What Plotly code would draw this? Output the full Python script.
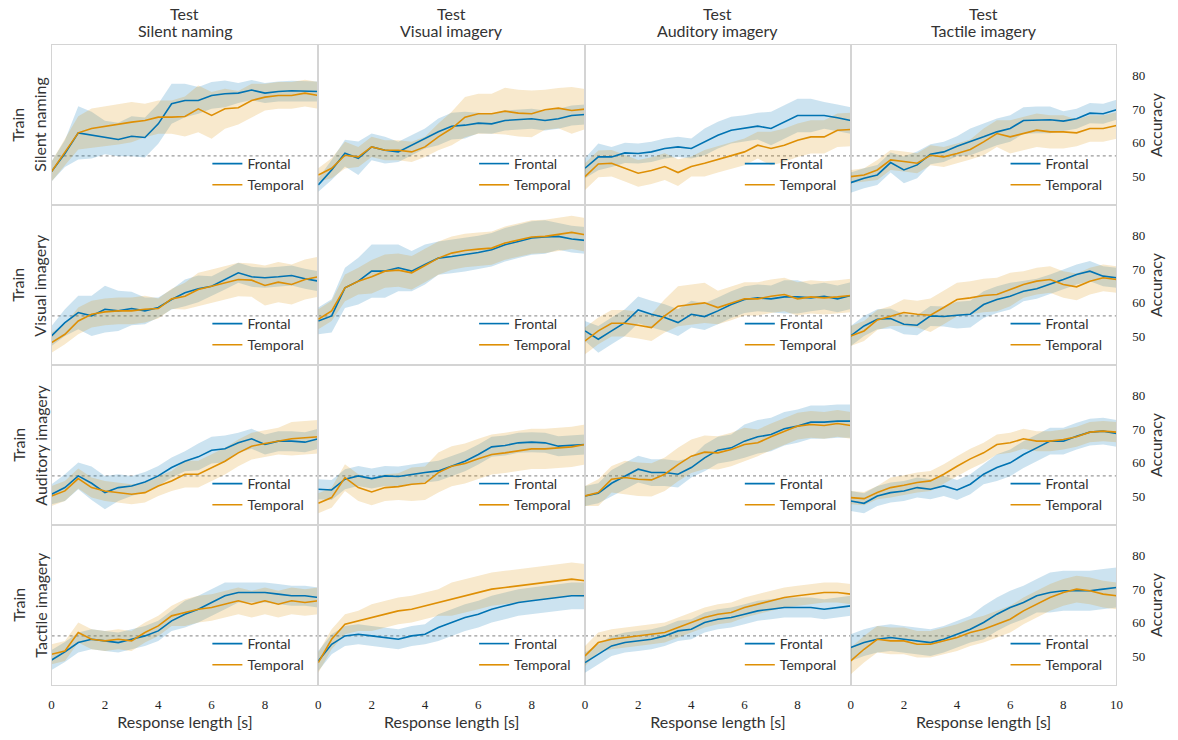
import plotly.graph_objects as go

# ---- axes / labels -------------------------------------------------------
TIME = [0.0, 0.5, 1.0, 1.5, 2.0, 2.5, 3.0, 3.5, 4.0, 4.5, 5.0,
        5.5, 6.0, 6.5, 7.0, 7.5, 8.0, 8.5, 9.0, 9.5, 10.0]
TASKS = ["Silent naming", "Visual imagery", "Auditory imagery", "Tactile imagery"]
CHANCE = 56
Y_TICKS = [50, 60, 70, 80]
X_TICKS = [0, 2, 4, 6, 8]
X_TICKS_LAST = [0, 2, 4, 6, 8, 10]

# ---- mean accuracy and band half-width (train -> test) ---------------------
# train: silent naming
fr_sil_sil = [51.3, 56.7, 62.9, 62.2, 61.5, 60.9, 61.9, 61.5, 65.6, 71.6, 72.6,
              72.6, 74.1, 74.6, 74.8, 75.7, 74.8, 75.3, 75.5, 75.3, 75.3]
te_sil_sil = [51.3, 57.2, 62.9, 64.2, 64.9, 65.4, 66.1, 66.6, 67.6, 67.6, 67.8,
              70.1, 68.1, 70.1, 70.4, 72.6, 73.6, 74.1, 74.1, 74.8, 74.1]
fr_sil_sil_sd = [3, 4, 8, 7, 5, 5, 6, 6, 6, 6, 5, 4, 4, 4, 3, 3, 3, 3, 3, 3, 3]
te_sil_sil_sd = [3, 4, 5, 6, 6, 6, 6, 5, 5, 5, 6, 7, 7, 6, 5, 5, 4, 4, 4, 4, 4]

fr_sil_vis = [47.3, 51.8, 56.8, 55.3, 58.7, 57.7, 57.2, 59.2, 61.2, 63.2, 64.9,
              65.2, 65.8, 65.6, 66.6, 66.8, 67.1, 66.6, 67.1, 68.1, 68.4]
te_sil_vis = [50.3, 52.3, 56.2, 55.7, 58.7, 57.7, 57.7, 57.2, 58.7, 61.7, 64.2,
              67.6, 68.6, 68.6, 69.4, 68.8, 68.6, 69.8, 70.3, 69.6, 70.0]
fr_sil_vis_sd = [2, 3, 4, 5, 4, 4, 3, 3, 3, 4, 4, 4, 3, 3, 3, 3, 3, 3, 3, 3, 3]
te_sil_vis_sd = [2, 3, 4, 3, 3, 3, 3, 3, 3, 4, 5, 6, 6, 6, 7, 7, 7, 6, 6, 7, 6]

fr_sil_aud = [52.3, 55.7, 55.7, 56.9, 56.7, 57.2, 58.2, 58.7, 58.2, 60.2, 62.2,
              63.7, 64.2, 64.9, 64.2, 66.1, 68.1, 68.1, 68.1, 67.4, 66.6]
te_sil_aud = [49.8, 53.6, 53.8, 52.3, 50.8, 51.6, 52.8, 51.0, 52.8, 53.8, 55.0,
              56.2, 57.2, 59.2, 58.2, 59.2, 60.7, 61.7, 61.7, 63.7, 63.9]
fr_sil_aud_sd = [3, 4, 3, 3, 3, 3, 3, 3, 3, 4, 4, 4, 4, 4, 5, 5, 5, 5, 4, 4, 4]
te_sil_aud_sd = [4, 4, 4, 4, 4, 4, 4, 4, 3, 4, 4, 4, 4, 4, 5, 5, 5, 5, 5, 5, 5]

fr_sil_tac = [48.0, 49.3, 50.3, 54.0, 51.8, 53.3, 56.5, 57.2, 58.9, 60.2, 61.7,
              63.2, 64.2, 66.6, 66.8, 66.8, 66.4, 67.1, 68.8, 68.6, 69.8]
te_sil_tac = [49.8, 50.3, 51.8, 54.8, 54.3, 53.8, 56.2, 55.7, 56.7, 57.9, 60.2,
              62.7, 61.7, 62.7, 63.7, 63.2, 63.2, 62.9, 64.2, 64.2, 65.1]
fr_sil_tac_sd = [3, 3, 3, 3, 4, 4, 3, 3, 3, 4, 4, 4, 4, 4, 4, 4, 3, 3, 3, 3, 3]
te_sil_tac_sd = [2, 2, 3, 3, 3, 3, 3, 3, 3, 3, 4, 4, 5, 5, 5, 5, 5, 4, 4, 4, 4]

# train: visual imagery
fr_vis_sil = [50.0, 54.0, 57.0, 56.0, 58.0, 57.5, 58.2, 57.5, 58.5, 60.9, 62.9,
              64.1, 64.9, 66.9, 68.9, 67.7, 67.4, 67.7, 68.1, 67.1, 66.4]
te_vis_sil = [48.0, 50.5, 54.5, 56.5, 57.2, 57.5, 57.5, 58.0, 58.2, 61.1, 61.9,
              63.9, 64.9, 65.9, 66.9, 66.7, 65.1, 66.1, 65.4, 66.9, 67.7]
fr_vis_sil_sd = [3, 4, 5, 6, 7, 6, 5, 4, 3, 3, 4, 4, 3, 3, 3, 3, 3, 3, 3, 3, 3]
te_vis_sil_sd = [3, 3, 4, 4, 4, 4, 4, 4, 3, 3, 4, 5, 5, 5, 5, 5, 6, 6, 6, 6, 6]

fr_vis_vis = [54.5, 56.0, 64.4, 66.4, 69.4, 69.4, 70.4, 69.4, 71.4, 73.3, 73.8,
              74.3, 75.0, 75.8, 77.3, 78.3, 79.3, 79.6, 79.8, 79.0, 78.6]
te_vis_vis = [55.0, 57.5, 64.4, 66.4, 67.7, 69.4, 69.7, 68.9, 71.1, 73.3, 74.8,
              75.6, 76.0, 76.3, 77.8, 78.6, 79.6, 79.8, 80.3, 81.0, 80.3]
fr_vis_vis_sd = [4, 5, 6, 7, 8, 8, 7, 6, 6, 5, 5, 5, 5, 5, 5, 5, 5, 5, 4, 4, 4]
te_vis_vis_sd = [3, 3, 4, 4, 5, 5, 5, 5, 5, 5, 5, 5, 5, 5, 5, 5, 5, 5, 5, 5, 5]

fr_vis_aud = [51.5, 49.0, 51.5, 54.0, 57.8, 56.5, 55.5, 54.0, 56.5, 55.8, 57.5,
              59.4, 60.9, 61.4, 61.1, 61.7, 61.7, 61.4, 61.9, 61.1, 62.1]
te_vis_aud = [48.5, 51.5, 53.8, 53.8, 53.2, 52.5, 56.0, 58.9, 59.4, 59.9, 58.5,
              59.7, 61.1, 61.1, 61.9, 62.4, 61.1, 61.7, 61.4, 61.7, 62.1]
fr_vis_aud_sd = [3, 4, 4, 4, 4, 4, 4, 4, 4, 4, 4, 4, 4, 4, 4, 5, 5, 4, 4, 4, 4]
te_vis_aud_sd = [4, 4, 4, 4, 4, 4, 5, 6, 6, 6, 5, 5, 5, 5, 5, 5, 5, 5, 5, 5, 5]

fr_vis_tac = [50.0, 53.0, 55.0, 55.2, 53.5, 53.2, 56.0, 55.8, 56.2, 56.5, 59.4,
              60.9, 61.9, 63.4, 64.1, 65.4, 66.9, 68.4, 69.4, 67.9, 67.4]
te_vis_tac = [50.0, 51.5, 54.8, 56.0, 57.0, 56.5, 56.2, 58.5, 60.9, 61.4, 62.1,
              62.4, 63.9, 65.4, 66.4, 66.9, 65.4, 64.7, 66.4, 67.4, 66.9]
fr_vis_tac_sd = [3, 3, 3, 3, 3, 3, 3, 3, 4, 4, 4, 4, 4, 3, 3, 3, 3, 3, 3, 3, 3]
te_vis_tac_sd = [3, 3, 3, 3, 4, 4, 5, 5, 5, 5, 5, 5, 5, 4, 4, 4, 4, 4, 4, 4, 4]

# train: auditory imagery
fr_aud_sil = [50.5, 52.5, 56.0, 53.8, 51.0, 52.5, 53.0, 54.2, 56.0, 58.5, 60.4,
              61.7, 63.7, 64.1, 65.9, 67.1, 65.4, 66.4, 66.4, 66.1, 67.1]
te_aud_sil = [50.0, 51.5, 55.2, 52.5, 51.5, 51.0, 50.5, 51.0, 53.0, 54.5, 56.5,
              56.5, 58.5, 60.4, 62.9, 64.9, 65.7, 66.4, 67.1, 67.4, 67.7]
fr_aud_sil_sd = [3, 4, 4, 5, 5, 4, 3, 3, 3, 3, 3, 4, 4, 4, 3, 3, 3, 3, 3, 3, 3]
te_aud_sil_sd = [3, 3, 3, 3, 3, 3, 3, 3, 3, 3, 4, 4, 4, 4, 4, 4, 4, 4, 5, 5, 5]

fr_aud_vis = [52.0, 51.8, 55.0, 56.0, 55.2, 56.0, 55.8, 56.5, 57.0, 57.5, 58.9,
              60.4, 62.4, 64.7, 65.1, 65.9, 66.1, 65.9, 64.9, 65.1, 65.4]
te_aud_vis = [47.8, 49.5, 55.5, 52.5, 51.2, 52.5, 52.8, 53.5, 53.8, 57.0, 58.9,
              59.7, 61.1, 62.4, 62.9, 63.4, 64.1, 64.1, 64.4, 64.7, 65.4]
fr_aud_vis_sd = [3, 3, 3, 3, 3, 3, 3, 3, 3, 3, 3, 3, 3, 3, 3, 3, 3, 3, 3, 3, 3]
te_aud_vis_sd = [3, 3, 4, 4, 4, 4, 4, 5, 5, 6, 6, 6, 6, 6, 6, 6, 6, 6, 6, 6, 6]

fr_aud_aud = [50.0, 50.8, 53.8, 56.0, 58.0, 57.0, 57.0, 56.5, 58.5, 61.4, 63.7,
              64.4, 66.4, 67.7, 68.4, 70.1, 70.9, 72.1, 72.1, 72.4, 72.4]
te_aud_aud = [50.0, 51.0, 55.0, 55.5, 55.0, 54.8, 56.5, 59.4, 61.9, 63.1, 62.9,
              63.9, 65.4, 65.9, 67.7, 69.4, 70.9, 71.4, 71.1, 71.7, 71.1]
fr_aud_aud_sd = [3, 3, 4, 4, 4, 4, 4, 4, 3, 4, 4, 4, 5, 5, 5, 5, 5, 5, 5, 5, 5]
te_aud_aud_sd = [3, 4, 4, 5, 5, 5, 5, 5, 5, 5, 5, 5, 5, 4, 4, 4, 4, 4, 4, 4, 4]

fr_aud_tac = [48.5, 47.8, 50.0, 51.0, 51.5, 52.5, 52.0, 53.0, 51.8, 53.5, 56.5,
              58.5, 59.9, 62.4, 64.4, 66.4, 66.4, 67.9, 69.1, 69.4, 68.7]
te_aud_tac = [49.5, 49.2, 51.0, 52.5, 53.2, 54.0, 54.5, 56.5, 58.9, 61.1, 62.9,
              65.4, 65.9, 67.1, 66.4, 66.4, 66.9, 67.7, 69.1, 69.4, 69.1]
fr_aud_tac_sd = [3, 3, 3, 3, 3, 3, 3, 3, 3, 3, 3, 4, 4, 4, 4, 4, 4, 4, 4, 4, 4]
te_aud_tac_sd = [2, 2, 2, 3, 3, 3, 3, 3, 3, 3, 3, 3, 3, 3, 3, 3, 3, 3, 3, 3, 3]

# train: tactile imagery
fr_tac_sil = [48.8, 51.2, 54.0, 55.0, 54.5, 54.0, 55.0, 56.0, 57.5, 60.5, 62.5,
              64.0, 66.0, 68.0, 69.0, 69.0, 69.0, 68.5, 68.0, 68.0, 67.5]
te_tac_sil = [50.5, 51.5, 57.0, 55.0, 54.5, 55.0, 54.5, 57.0, 59.0, 62.0, 63.0,
              64.0, 64.5, 65.5, 66.5, 65.5, 66.5, 65.5, 66.5, 66.0, 66.5]
fr_tac_sil_sd = [3, 3, 3, 3, 3, 3, 3, 3, 3, 3, 4, 4, 4, 4, 3, 3, 3, 3, 3, 3, 3]
te_tac_sil_sd = [3, 3, 3, 3, 3, 3, 3, 3, 3, 3, 4, 4, 4, 4, 4, 4, 4, 4, 4, 4, 4]

fr_tac_vis = [48.5, 53.5, 56.0, 56.5, 56.0, 55.5, 55.0, 56.0, 56.5, 58.5, 60.0,
              61.5, 62.5, 64.0, 65.0, 66.0, 66.5, 67.0, 67.5, 68.0, 68.0]
te_tac_vis = [48.0, 55.0, 59.5, 60.5, 61.5, 62.5, 63.5, 64.0, 65.0, 66.0, 67.0,
              68.0, 69.0, 70.0, 70.5, 71.0, 71.5, 72.0, 72.5, 73.0, 72.5]
fr_tac_vis_sd = [3, 3, 3, 3, 3, 3, 3, 3, 3, 4, 4, 4, 4, 4, 4, 4, 4, 4, 4, 4, 4]
te_tac_vis_sd = [3, 3, 3, 3, 4, 4, 4, 4, 4, 4, 5, 5, 5, 5, 5, 5, 5, 5, 5, 5, 5]

fr_tac_aud = [48.0, 50.5, 53.0, 54.0, 54.5, 55.0, 56.0, 57.5, 58.0, 60.0, 61.0,
              61.5, 62.5, 63.5, 64.0, 64.5, 64.5, 64.5, 64.0, 64.5, 65.0]
te_tac_aud = [50.0, 54.0, 55.0, 55.5, 56.0, 56.5, 57.0, 58.5, 60.0, 61.5, 62.5,
              63.0, 64.5, 65.5, 66.5, 67.5, 68.0, 68.5, 69.0, 69.0, 68.5]
fr_tac_aud_sd = [3, 3, 3, 3, 3, 3, 3, 3, 3, 3, 3, 3, 3, 3, 3, 3, 3, 3, 3, 3, 3]
te_tac_aud_sd = [3, 3, 3, 3, 3, 3, 3, 3, 3, 3, 3, 3, 3, 3, 3, 3, 3, 3, 3, 3, 3]

fr_tac_tac = [52.5, 54.0, 55.0, 55.5, 55.0, 54.5, 54.0, 55.0, 56.5, 58.0, 60.0,
              62.5, 64.5, 66.0, 68.0, 69.0, 69.5, 69.5, 69.5, 70.0, 70.5]
te_tac_tac = [48.5, 52.0, 55.0, 54.5, 54.5, 53.5, 53.5, 54.5, 55.5, 57.0, 58.0,
              59.5, 61.0, 63.5, 65.5, 67.5, 69.0, 70.0, 69.5, 68.5, 68.0]
fr_tac_tac_sd = [4, 4, 4, 4, 4, 4, 4, 4, 4, 4, 5, 5, 5, 5, 5, 6, 6, 6, 6, 6, 6]
te_tac_tac_sd = [4, 4, 4, 4, 4, 4, 4, 4, 4, 4, 4, 4, 4, 4, 4, 4, 4, 4, 4, 4, 4]

# rows = train task, cols = test task
GRID = [
    [(fr_sil_sil, fr_sil_sil_sd, te_sil_sil, te_sil_sil_sd),
     (fr_sil_vis, fr_sil_vis_sd, te_sil_vis, te_sil_vis_sd),
     (fr_sil_aud, fr_sil_aud_sd, te_sil_aud, te_sil_aud_sd),
     (fr_sil_tac, fr_sil_tac_sd, te_sil_tac, te_sil_tac_sd)],
    [(fr_vis_sil, fr_vis_sil_sd, te_vis_sil, te_vis_sil_sd),
     (fr_vis_vis, fr_vis_vis_sd, te_vis_vis, te_vis_vis_sd),
     (fr_vis_aud, fr_vis_aud_sd, te_vis_aud, te_vis_aud_sd),
     (fr_vis_tac, fr_vis_tac_sd, te_vis_tac, te_vis_tac_sd)],
    [(fr_aud_sil, fr_aud_sil_sd, te_aud_sil, te_aud_sil_sd),
     (fr_aud_vis, fr_aud_vis_sd, te_aud_vis, te_aud_vis_sd),
     (fr_aud_aud, fr_aud_aud_sd, te_aud_aud, te_aud_aud_sd),
     (fr_aud_tac, fr_aud_tac_sd, te_aud_tac, te_aud_tac_sd)],
    [(fr_tac_sil, fr_tac_sil_sd, te_tac_sil, te_tac_sil_sd),
     (fr_tac_vis, fr_tac_vis_sd, te_tac_vis, te_tac_vis_sd),
     (fr_tac_aud, fr_tac_aud_sd, te_tac_aud, te_tac_aud_sd),
     (fr_tac_tac, fr_tac_tac_sd, te_tac_tac, te_tac_tac_sd)],
]

# ---- styling ---------------------------------------------------------------
W, H = 1178, 740
BLUE, ORANGE = "#0173B2", "#DE8F05"
BLUE_FILL, ORANGE_FILL = "rgba(1,115,178,0.2)", "rgba(222,143,5,0.2)"
FRAME = "#d4d4d4"
SANS = "Lato, 'DejaVu Sans', sans-serif"
SERIF = "'Liberation Serif', 'DejaVu Serif', serif"
TEXT = "#333333"
COL_PX = [49, 318, 587, 855, 1123]
ROW_PX = [45, 205, 365, 525, 685]
Y_RANGE = [41.3, 89.2]

fig = go.Figure()
layout = dict(width=W, height=H, margin=dict(l=0, r=0, t=0, b=0),
              plot_bgcolor="white", paper_bgcolor="white",
              font=dict(family=SANS, color=TEXT), showlegend=True)
annotations = []
shapes = []


def band(x, mean, sd, fill, xa, ya):
    upper = [m + s for m, s in zip(mean, sd)]
    lower = [m - s for m, s in zip(mean, sd)]
    return go.Scatter(x=list(x) + list(x)[::-1], y=upper + lower[::-1],
                      fill="toself", fillcolor=fill, line=dict(width=0),
                      mode="lines", hoverinfo="skip", showlegend=False,
                      xaxis=xa, yaxis=ya)


def label(text, x_px, y_px, angle=0):
    return dict(x=x_px / W, y=1 - y_px / H, xref="paper", yref="paper",
                xanchor="center", yanchor="middle", text=text,
                showarrow=False, textangle=angle,
                font=dict(family=SANS, size=16, color=TEXT))


for r in range(4):
    for c in range(4):
        k = r * 4 + c + 1
        sfx = "" if k == 1 else str(k)
        xa, ya = "x" + sfx, "y" + sfx
        leg = "legend" + sfx
        fr, fr_sd, te, te_sd = GRID[r][c]

        fig.add_trace(band(TIME, fr, fr_sd, BLUE_FILL, xa, ya))
        fig.add_trace(band(TIME, te, te_sd, ORANGE_FILL, xa, ya))
        fig.add_trace(go.Scatter(x=TIME, y=fr, mode="lines", name="Frontal",
                                 line=dict(color=BLUE, width=1.6),
                                 xaxis=xa, yaxis=ya, legend=leg))
        fig.add_trace(go.Scatter(x=TIME, y=te, mode="lines", name="Temporal",
                                 line=dict(color=ORANGE, width=1.6),
                                 xaxis=xa, yaxis=ya, legend=leg))

        x0, x1 = COL_PX[c] / W, COL_PX[c + 1] / W
        y0, y1 = 1 - ROW_PX[r + 1] / H, 1 - ROW_PX[r] / H
        bottom = r == 3
        last_col = c == 3

        layout["xaxis" + sfx] = dict(
            domain=[x0, x1], anchor=ya, range=[0, 10],
            showgrid=False, zeroline=False, showline=True, mirror=True,
            linecolor=FRAME, linewidth=1.3, ticks="",
            tickvals=(X_TICKS_LAST if last_col else X_TICKS) if bottom else [],
            showticklabels=bottom,
            tickfont=dict(family=SERIF, size=13, color="#222222"),
            ticklabelstandoff=7,
            title=dict(text="Response length [s]" if bottom else "",
                       font=dict(family=SANS, size=16, color=TEXT),
                       standoff=6),
        )
        layout["yaxis" + sfx] = dict(
            domain=[y0, y1], anchor=xa, range=Y_RANGE,
            showgrid=False, zeroline=False, showline=True, mirror=True,
            linecolor=FRAME, linewidth=1.3, ticks="",
            side="right" if last_col else "left",
            tickvals=Y_TICKS if last_col else [],
            showticklabels=last_col,
            tickfont=dict(family=SERIF, size=13, color="#222222"),
            ticklabelstandoff=12,
            title=dict(text="Accuracy" if last_col else "",
                       font=dict(family=SANS, size=16, color=TEXT),
                       standoff=6),
        )
        layout[leg] = dict(
            x=(COL_PX[c + 1] - 9) / W, xanchor="right",
            y=1 - (ROW_PX[r + 1] - 4) / H, yanchor="bottom",
            bgcolor="rgba(0,0,0,0)", borderwidth=0,
            font=dict(family=SANS, size=14, color=TEXT),
            tracegroupgap=0, itemwidth=30,
        )
        shapes.append(dict(type="line", xref=xa + " domain", yref=ya,
                           x0=0, x1=1, y0=CHANCE, y1=CHANCE,
                           line=dict(color="#9a9a9a", width=1.1, dash="dot"),
                           layer="below"))

# column headers: test task (two lines)
for c, task in enumerate(TASKS):
    xc = (COL_PX[c] + COL_PX[c + 1]) / 2
    annotations.append(label("Test", xc, 13))
    annotations.append(label(task, xc, 30))

# row headers: train task (two lines, rotated)
for r, task in enumerate(TASKS):
    yc = (ROW_PX[r] + ROW_PX[r + 1]) / 2
    annotations.append(label("Train", 15, yc, -90))
    annotations.append(label(task, 37, yc, -90))

layout["annotations"] = annotations
layout["shapes"] = shapes
fig.update_layout(**layout)
fig.write_html("out.html")
